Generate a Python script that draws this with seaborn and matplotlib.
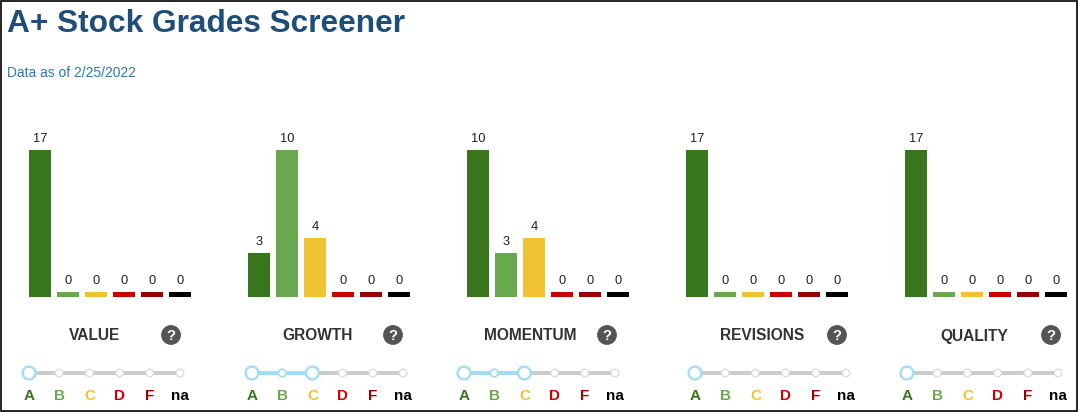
import matplotlib
matplotlib.use("Agg")
import matplotlib.pyplot as plt
from matplotlib.patches import Circle, Rectangle
import seaborn as sns
import pandas as pd

# ---------------- data ----------------
grades = ["A", "B", "C", "D", "F", "na"]
categories = ["VALUE", "GROWTH", "MOMENTUM", "REVISIONS", "QUALITY"]
value_counts = [17, 0, 0, 0, 0, 0]
growth_counts = [3, 10, 4, 0, 0, 0]
momentum_counts = [10, 3, 4, 0, 0, 0]
revisions_counts = [17, 0, 0, 0, 0, 0]
quality_counts = [17, 0, 0, 0, 0, 0]
selected_range = [("A", "A"), ("A", "C"), ("A", "C"), ("A", "A"), ("A", "A")]
title = "A+ Stock Grades Screener"
subtitle = "Data as of 2/25/2022"

all_counts = [value_counts, growth_counts, momentum_counts, revisions_counts, quality_counts]

# ---------------- style ----------------
grade_colors = ["#38761d", "#6aa84f", "#f1c232", "#cc0000", "#990000", "#000000"]
palette = dict(zip(grades, grade_colors))

sns.set_theme(style="white")
plt.rcParams["font.family"] = ["Liberation Sans", "DejaVu Sans"]

W, H = 1078, 412
fig = plt.figure(figsize=(W / 100, H / 100), dpi=100)
fig.patch.set_facecolor("white")

# layout (pixels)
bar_axes_left = [26, 245, 464, 683, 902]
pitch = 28
baseline_y = 297
bar_area_h = 147
label_cx = [95, 318, 530, 762, 974]
help_cx = [171, 393, 607, 837, 1051]
slider_x0 = [29, 252, 464, 695, 907]
slider_dx = 30.2
label_y = 335
slider_y = 373
letter_y = 395

for i, counts in enumerate(all_counts):
    vmax = max(counts)
    min_h = vmax * 5.0 / bar_area_h
    df = pd.DataFrame({
        "grade": grades,
        "count": counts,
        "height": [c if c > 0 else min_h for c in counts],
    })
    left = bar_axes_left[i]
    ax = fig.add_axes([left / W, 1 - baseline_y / H, 6 * pitch / W, bar_area_h / H])
    sns.barplot(data=df, x="grade", y="height", hue="grade", palette=palette,
                order=grades, hue_order=grades, width=22 / 28, legend=False,
                ax=ax, saturation=1, linewidth=0)
    ax.set_xlim(-0.5, 5.5)
    ax.set_ylim(0, vmax)
    ax.axis("off")
    for j, (h, c) in enumerate(zip(df["height"], df["count"])):
        ax.annotate(str(c), xy=(j, h), xytext=(0, 3.5), textcoords="offset points",
                    ha="center", va="bottom", fontsize=9.3, color="#222222",
                    annotation_clip=False)

# overlay axes in pixel coordinates
ov = fig.add_axes([0, 0, 1, 1], zorder=5)
ov.set_xlim(0, W)
ov.set_ylim(H, 0)
ov.axis("off")
ov.patch.set_alpha(0)

ov.text(7, 32, title, fontsize=22.8, fontweight="bold", color="#1f4e79",
        ha="left", va="baseline")
ov.text(7, 77, subtitle, fontsize=9.9, color="#2e75b6", ha="left", va="baseline")

blue = "#a3dcf5"
gray = "#cccccc"
for i, cat in enumerate(categories):
    ov.text(label_cx[i], label_y + 5.5, cat, fontsize=11.2, fontweight="bold",
            color="#333333", ha="center", va="baseline")
    ov.add_patch(Circle((help_cx[i], label_y), 9.2, color="#555555", zorder=3))
    ov.text(help_cx[i], label_y + 0.5, "?", fontsize=10.5, fontweight="bold",
            color="white", ha="center", va="center", zorder=4)

    xs = [slider_x0[i] + k * slider_dx for k in range(6)]
    lo = grades.index(selected_range[i][0])
    hi = grades.index(selected_range[i][1])
    ov.plot([xs[0], xs[-1]], [slider_y, slider_y], color=gray, lw=2.9,
            solid_capstyle="butt", zorder=2)
    if hi > lo:
        ov.plot([xs[lo], xs[hi]], [slider_y, slider_y], color=blue, lw=2.9,
                solid_capstyle="butt", zorder=2.5)
    for k, x in enumerate(xs):
        if k == lo or k == hi:
            ov.add_patch(Circle((x, slider_y), 6.4, facecolor="white", edgecolor=blue,
                                lw=1.7, zorder=4))
        elif lo < k < hi:
            ov.add_patch(Circle((x, slider_y), 3.8, facecolor="white", edgecolor=blue,
                                lw=1.2, zorder=3))
        else:
            ov.add_patch(Circle((x, slider_y), 3.8, facecolor="white", edgecolor="#dddddd",
                                lw=1.0, zorder=3))
        ov.text(x, letter_y + 5.4, grades[k], fontsize=11.0, fontweight="bold",
                color=grade_colors[k], ha="center", va="baseline")

# outer border
ov.add_patch(Rectangle((0.8, 0.8), W - 2.3, H - 2.3, fill=False, edgecolor="black", lw=1.2,
                       zorder=10))

fig.savefig("out.png", dpi=100, facecolor="white")
